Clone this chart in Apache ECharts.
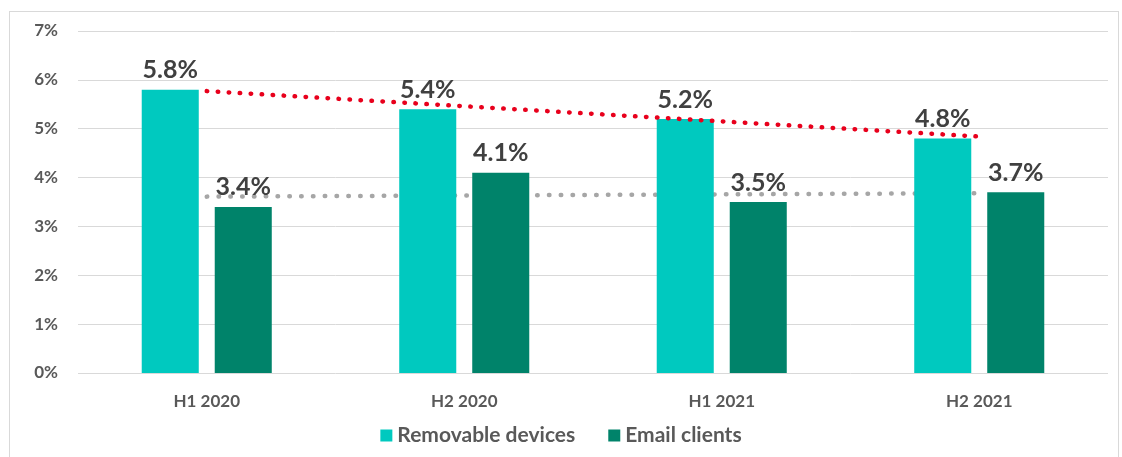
<!DOCTYPE html>
<html>
<head>
<meta charset="utf-8">
<script src="https://cdn.jsdelivr.net/npm/echarts@6/dist/echarts.min.js"></script>
<style>
  html, body { margin: 0; padding: 0; background: #fff; }
  #frame { position: absolute; left: 9px; top: 11px; width: 1110px; height: 460px; border: 1px solid #d9d9d9; box-sizing: border-box; pointer-events: none; }
  #chart { position: absolute; left: 0; top: 0; width: 1122px; height: 457px; }
</style>
</head>
<body>
<div id="chart"></div>
<div id="frame"></div>
<script>
const categories = ['H1 2020', 'H2 2020', 'H1 2021', 'H2 2021'];
const seriesNames = ['Removable devices', 'Email clients'];
const removable = [5.8, 5.4, 5.2, 4.8];
const email = [3.4, 4.1, 3.5, 3.7];
// trend lines: start and end only
const removableTrend = [5.77, null, null, 4.84];
const emailTrend = [3.61, null, null, 3.68];
const yTicks = [0, 1, 2, 3, 4, 5, 6, 7];

const colors = ['#00c9bf', '#00836a'];
const fontFamily = 'Lato, "Open Sans", sans-serif';

const chart = echarts.init(document.getElementById('chart'));

const labelStyle = {
  show: true,
  position: 'top',
  distance: 7,
  formatter: p => p.value.toFixed(1) + '%',
  color: '#404040',
  fontSize: 25,
  fontWeight: 'bold',
  fontFamily: fontFamily
};

const option = {
  backgroundColor: '#fff',
  color: colors,
  grid: { left: 78, right: 14, top: 31, bottom: 84 },
  legend: {
    data: seriesNames,
    bottom: 6,
    left: 'center',
    itemWidth: 12,
    itemHeight: 12,
    itemGap: 33,
    icon: 'rect',
    textStyle: { color: '#595959', fontSize: 21, fontWeight: 'bold', fontFamily: fontFamily }
  },
  xAxis: {
    type: 'category',
    data: categories,
    axisLine: { show: false },
    axisTick: { show: false },
    axisLabel: { color: '#595959', fontSize: 17, fontWeight: 'bold', fontFamily: fontFamily, margin: 20 }
  },
  yAxis: {
    type: 'value',
    min: yTicks[0],
    max: yTicks[yTicks.length - 1],
    interval: 1,
    axisLine: { show: false },
    axisTick: { show: false },
    axisLabel: { formatter: '{value}%', color: '#595959', fontSize: 17, fontWeight: 'bold', fontFamily: fontFamily, margin: 20 },
    splitLine: { lineStyle: { color: '#d9d9d9', width: 1 } }
  },
  series: [
    {
      name: seriesNames[0],
      type: 'bar',
      data: removable,
      barGap: '28%',
      barCategoryGap: '49.5%',
      itemStyle: { color: colors[0] },
      label: labelStyle,
      z: 2
    },
    {
      name: seriesNames[1],
      type: 'bar',
      data: email,
      itemStyle: { color: colors[1] },
      label: labelStyle,
      z: 2
    },
    {
      name: 'Removable trend',
      type: 'line',
      data: removableTrend,
      connectNulls: true,
      symbol: 'none',
      silent: true,
      z: 3,
      lineStyle: { color: '#e8001c', width: 4.5, type: [0.5, 10.5], cap: 'round' }
    },
    {
      name: 'Email trend',
      type: 'line',
      data: emailTrend,
      connectNulls: true,
      symbol: 'none',
      silent: true,
      z: 1,
      lineStyle: { color: '#a6a6a6', width: 4.5, type: [0.5, 11.3], cap: 'round' }
    }
  ]
};

chart.setOption(option);
</script>
</body>
</html>
